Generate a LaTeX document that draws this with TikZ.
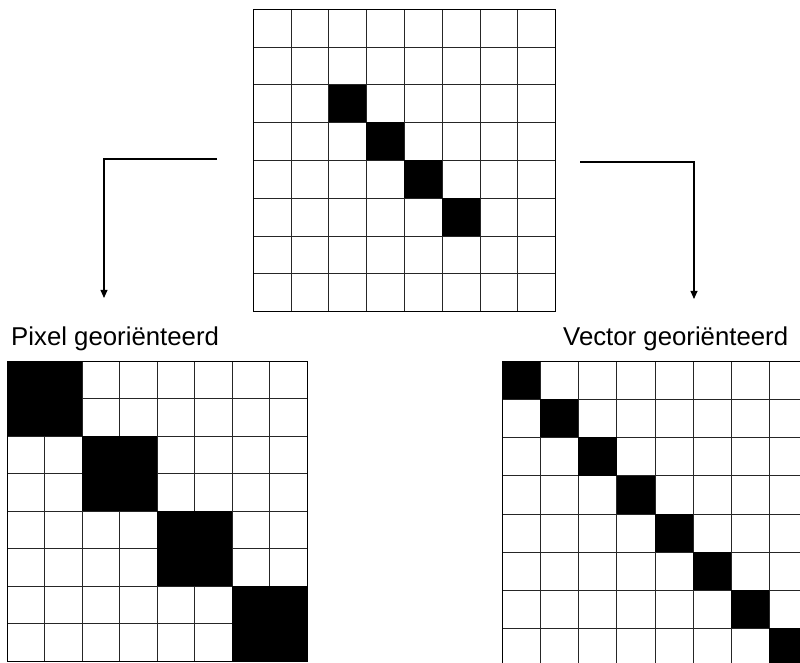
\documentclass[tikz,border=0pt]{standalone}
\usepackage{fontspec}
\setmainfont{Liberation Sans}
\usetikzlibrary{arrows.meta, positioning}

\tikzset{
  gridline/.style={line width=0.5pt, black!85},
  frame/.style={draw, line width=0.7pt, inner sep=0pt, anchor=north west},
  conn/.style={line width=1.1pt, -{Triangle[length=7pt, width=6pt]}},
  caption/.style={font=\fontsize{22}{26}\selectfont, anchor=base west, inner sep=0pt}
}

\begin{document}
\begin{tikzpicture}[x=0.03cm, y=-0.03cm]
  \useasboundingbox (0,0) rectangle (800,663);
  \begin{scope}
    \clip (0,0) rectangle (800,663);
    % boven: origineel
    \begin{scope}[shift={(253,9)}]
      \foreach \k in {1,...,7} {
        \draw[gridline] (\k*37.8,0) -- (\k*37.8,302.4);
        \draw[gridline] (0,\k*37.8) -- (302.4,\k*37.8);
      }
      \foreach \i in {2,...,5} \fill (\i*37.8,\i*37.8) rectangle ++(37.8,37.8);
    \end{scope}
    \node[frame, minimum width=9.07cm, minimum height=9.07cm] (topgrid) at (253,9) {};
    % links: pixel georienteerd
    \begin{scope}[shift={(7,361)}]
      \foreach \k in {1,...,7} {
        \draw[gridline] (\k*37.5,0) -- (\k*37.5,300);
        \draw[gridline] (0,\k*37.5) -- (300,\k*37.5);
      }
      \foreach \i in {0,...,3} \fill (\i*75,\i*75) rectangle ++(75,75);
    \end{scope}
    \node[frame, minimum width=9cm, minimum height=9cm] (pixgrid) at (7,361) {};
    % rechts: vector georienteerd
    \begin{scope}[shift={(502,361)}]
      \foreach \k in {1,...,7} {
        \draw[gridline] (\k*38.2,0) -- (\k*38.2,305.6);
        \draw[gridline] (0,\k*38.2) -- (305.6,\k*38.2);
      }
      \foreach \i in {0,...,7} \fill (\i*38.2,\i*38.2) rectangle ++(38.2,38.2);
    \end{scope}
    \node[frame, minimum width=9.17cm, minimum height=9.17cm] (vecgrid) at (502,361) {};
  \end{scope}

  \node[caption] (pixlabel) at (11,345) {Pixel georiënteerd};
  \node[caption] (veclabel) at (563,345) {Vector georiënteerd};

  \coordinate (lstart) at (217,159);
  \coordinate (lend) at (104,298);
  \coordinate (rstart) at (580,162);
  \coordinate (rend) at (694,299);
  \draw[conn] (lstart) -| (lend);
  \draw[conn] (rstart) -| (rend);
\end{tikzpicture}
\end{document}
